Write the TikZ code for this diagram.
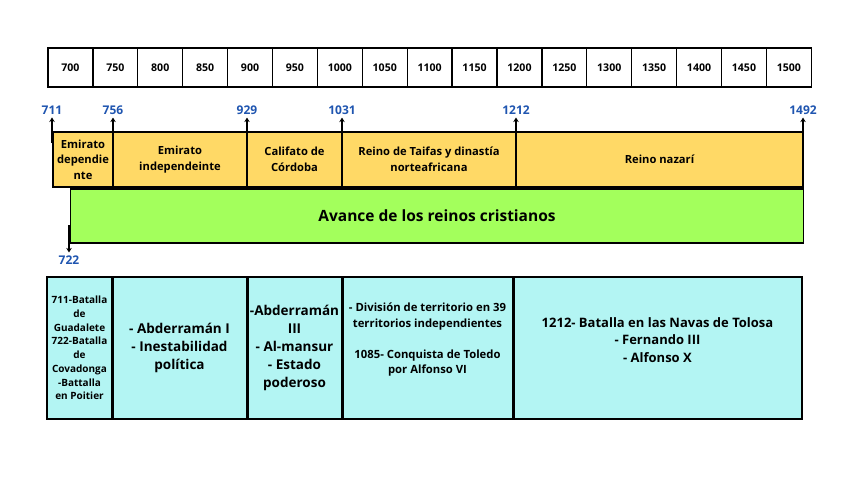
\documentclass[tikz,border=0pt]{standalone}
\usepackage{fontspec}
\setmainfont{Open Sans}
\usetikzlibrary{arrows.meta,positioning}
\definecolor{periodo}{HTML}{FFD966}
\definecolor{avance}{HTML}{A3FF5C}
\definecolor{hecho}{HTML}{B3F5F3}
\definecolor{fechablue}{HTML}{1F55B0}

\begin{document}
\begin{tikzpicture}[x=1pt, y=-1pt,
  cell/.style={draw, line width=1.3pt, fill=white, minimum width=44.9pt, minimum height=39pt, inner sep=0pt, font=\fontsize{10.6}{12}\selectfont\bfseries},
  period/.style={draw, line width=1.5pt, fill=periodo, minimum height=55pt, inner sep=1pt, align=center, font=\fontsize{11.2}{15.5}\selectfont\bfseries},
  fecha/.style={inner sep=3pt, text=fechablue, font=\fontsize{12}{14}\selectfont\bfseries},
  hbox/.style={draw, line width=1.5pt, fill=hecho, minimum height=142pt, inner sep=1pt, align=center, font=\fontsize{13.5}{18}\selectfont\bfseries},
  htext/.style={align=center, inner sep=0pt, font=\fontsize{13}{17.5}\selectfont\bfseries},
  tick/.style={-{Stealth[length=4.5pt, width=5.5pt]}, line width=2.2pt},
  divider/.style={line width=2.6pt},
]
  \useasboundingbox (0,0) rectangle (848,477);

  % Year scale
  \foreach \yr [count=\i from 0] in {700,750,...,1500}
    \node[cell] (a\yr) at ({70.45+44.9*\i}, 67.5) {\yr};

  % Periods
  \node[period, minimum width=60pt] (emdep) at (83,159.5) {Emirato\\dependie\\nte};
  \node[period, minimum width=134pt] (emind) at (180,159.5) {Emirato\\independeinte};
  \node[period, minimum width=95pt] (califa) at (294.5,159.5) {Califato de\\Córdoba};
  \node[period, minimum width=174pt] (taifas) at (429,159.5) {Reino de Taifas y dinastía\\norteafricana};
  \node[period, minimum width=287pt] (nazari) at (659.5,159.5) {Reino nazarí};

  % Dates
  \node[fecha] (f711) at (52,110) {711};
  \node[fecha] (f756) at (113,110) {756};
  \node[fecha] (f929) at (247,110) {929};
  \node[fecha] (f1031) at (342,110) {1031};
  \node[fecha] (f1212) at (516,110) {1212};
  \node[fecha] (f1492) at (803,110) {1492};
  \coordinate (b711) at (52,143);
  \coordinate (b756) at (113,187);
  \coordinate (b929) at (247,187);
  \coordinate (b1031) at (342,187);
  \coordinate (b1212) at (516,187);
  \coordinate (b1492) at (803,145);
  \foreach \d in {711,756,929,1031,1212,1492}
    \draw[tick] (b\d) -- (f\d.south);

  % Christian kingdoms
  \node[draw, line width=1.5pt, fill=avance, minimum width=733pt, minimum height=54pt, font=\fontsize{15.5}{18}\selectfont\bfseries] (avance) at (437,216) {Avance de los reinos cristianos};
  \node[fecha] (f722) at (69,260) {722};
  \coordinate (b722) at (69,225);
  \draw[tick] (b722) -- (f722.north);

  % Events
  \node[hbox, minimum width=65pt, font=\fontsize{10}{13.7}\selectfont\bfseries] (hb1) at (79.5,348) {711-Batalla\\de\\Guadalete\\722-Batalla\\de\\Covadonga\\-Battalla\\en Poitier};
  \node[hbox, minimum width=135pt] (hb2) at (179.5,348) {- Abderramán I\\- Inestabilidad\\política};
  \node[hbox, minimum width=95pt] (hb3) at (294.5,348) {-Abderramán\\III\\- Al-mansur\\- Estado\\poderoso};
  \node[hbox, minimum width=171pt] (hb4) at (427.5,348) {};
  \node[hbox, minimum width=289pt] (hb5) at (657.5,348) {};
  \node[htext, font=\fontsize{11.3}{15.5}\selectfont\bfseries] (t4) at ([yshift=8pt]hb4.center) {- División de territorio en 39\\territorios independientes\\[15.5pt]1085- Conquista de Toledo\\por Alfonso VI};
  \node[htext] (t5) at ([yshift=8pt]hb5.center) {1212- Batalla en las Navas de Tolosa\\- Fernando III\\- Alfonso X};
  \foreach \b in {hb1,hb2,hb3,hb4}
    \draw[divider] (\b.north east) -- (\b.south east);
\end{tikzpicture}
\end{document}
